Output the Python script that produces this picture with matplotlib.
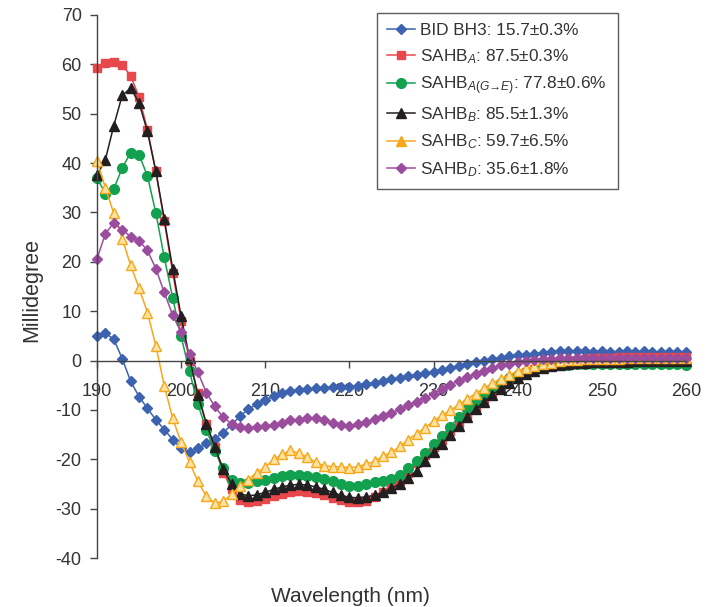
import numpy as np
from matplotlib import pyplot as plt

plt.rcParams['font.family'] = ['Liberation Sans', 'DejaVu Sans']
plt.rcParams['mathtext.fontset'] = 'custom'
plt.rcParams['mathtext.rm'] = 'Liberation Sans'
plt.rcParams['mathtext.it'] = 'Liberation Sans:italic'
plt.rcParams['mathtext.fallback'] = 'stixsans'
plt.rcParams['axes.unicode_minus'] = False

# wavelength, 1 nm steps
wavelength = np.arange(190, 261)

bid_bh3 = [4.9, 5.6, 4.3, 0.4, -4.2, -7.3, -9.7, -12, -14, -16,
           -17.8, -18.6, -17.8, -16.8, -15.8, -14.6, -13, -11.3, -9.8, -8.9,
           -8, -7.2, -6.5, -6.2, -6, -5.8, -5.6, -5.5, -5.4, -5.3,
           -5.3, -5.1, -4.8, -4.5, -4.1, -3.8, -3.5, -3.2, -2.9, -2.6,
           -2.3, -2, -1.6, -1.1, -0.7, -0.3, 0, 0.3, 0.6, 0.9,
           1.1, 1.2, 1.4, 1.6, 1.8, 2.0, 1.9, 1.9, 1.9, 1.8,
           1.9, 1.8, 1.8, 1.9, 1.8, 1.9, 1.8, 1.7, 1.8, 1.7, 1.7]

sahb_a = [59.3, 60.3, 60.4, 59.9, 57.7, 53.4, 46.8, 38.3, 28.2, 17.8,
          8, 0, -6.5, -12.8, -17.6, -22.7, -26, -28.3, -28.6, -28.4,
          -28, -27.5, -27, -26.7, -26.5, -26.6, -26.9, -27.3, -27.8, -28.3,
          -28.6, -28.7, -28.4, -27.7, -26.7, -25.6, -24.3, -22.7, -20.8, -19.2,
          -17.6, -16, -14.3, -12.6, -11, -9.4, -7.9, -6.5, -5.2, -4.1,
          -3.2, -2.4, -1.7, -1.1, -0.7, -0.3, 0, 0.2, 0.4, 0.5,
          0.6, 0.6, 0.7, 0.7, 0.7, 0.8, 0.8, 0.8, 0.8, 0.8, 0.8]

sahb_a_ge = [37, 33.8, 34.8, 39, 42.1, 41.7, 37.4, 29.9, 20.9, 12.7,
             4.9, -2.2, -8.9, -14, -18.4, -21.7, -24.1, -24.9, -24.9, -24.5,
             -24.1, -23.7, -23.3, -23.1, -23.1, -23.3, -23.6, -24, -24.5, -25,
             -25.4, -25.5, -25.1, -24.7, -24.4, -24, -23.1, -21.8, -20.4, -18.8,
             -17, -15.3, -13.4, -11.5, -9.9, -8.5, -6.9, -5.7, -4.5, -3.6,
             -3, -2.4, -2, -1.4, -1.1, -0.9, -0.8, -0.7, -0.7, -0.6,
             -0.6, -0.6, -0.6, -0.6, -0.6, -0.6, -0.7, -0.6, -0.7, -0.7, -0.8]

sahb_b = [37.5, 40.7, 47.6, 53.7, 55.2, 52.2, 46.4, 38.3, 28.7, 18.6,
          9, 0.5, -7, -12.8, -17.5, -22, -25, -27, -27.4, -27.2,
          -26.7, -26.1, -25.6, -25.2, -25.1, -25.2, -25.6, -26.1, -26.7, -27.3,
          -27.7, -27.8, -27.6, -27.3, -26.7, -25.9, -25, -23.8, -22.3, -20.3,
          -18.5, -16.9, -15, -13.3, -11.4, -9.9, -8.3, -6.9, -5.7, -4.5,
          -3.6, -2.8, -2.1, -1.5, -1.1, -0.8, -0.6, -0.5, -0.4, -0.3,
          -0.3, -0.2, -0.2, -0.2, -0.1, -0.1, -0.1, 0, 0, 0, 0]

sahb_c = [40.5, 35, 29.8, 24.7, 19.3, 14.7, 9.7, 3, -5.1, -11.7,
          -16.6, -20.6, -24.5, -27.5, -28.9, -28.5, -27.1, -25.5, -24.1, -22.7,
          -21.6, -20, -19, -18.2, -18.8, -19.6, -20.6, -21.3, -21.5, -21.5,
          -21.7, -21.5, -21, -20.4, -19.4, -18.6, -17.4, -16, -14.8, -13.6,
          -12.3, -11.1, -10.1, -8.9, -7.8, -6.7, -5.6, -4.6, -3.7, -2.9,
          -2.2, -1.6, -1.1, -0.7, -0.4, -0.1, 0.1, 0.2, 0.3, 0.3,
          0.4, 0.4, 0.4, 0.5, 0.5, 0.5, 0.5, 0.5, 0.5, 0.5, 0.5]

sahb_d = [20.6, 25.7, 27.9, 26.5, 25.1, 24.3, 22.3, 18.6, 13.8, 9.2,
          5.7, 1.3, -2.4, -6.5, -9.3, -11.5, -12.8, -13.4, -13.6, -13.4,
          -13.3, -13, -12.6, -12.1, -12, -11.7, -11.7, -12.1, -12.6, -13,
          -13.3, -12.9, -12.4, -11.9, -11.3, -10.6, -9.9, -9.1, -8.3, -7.5,
          -6.7, -5.8, -4.9, -4.1, -3.4, -2.7, -2.1, -1.5, -1, -0.6,
          -0.3, 0, 0.2, 0.3, 0.4, 0.5, 0.5, 0.5, 0.5, 0.6,
          0.6, 0.6, 0.6, 0.6, 0.6, 0.6, 0.6, 0.6, 0.6, 0.6, 0.6]

labels = ['BID BH3: 15.7±0.3%',
          'SAHB$_{A}$: 87.5±0.3%',
          'SAHB$_{A(G→E)}$: 77.8±0.6%',
          'SAHB$_{B}$: 85.5±1.3%',
          'SAHB$_{C}$: 59.7±6.5%',
          'SAHB$_{D}$: 35.6±1.8%']

fig = plt.figure(figsize=(7.13, 6.07), dpi=100)
ax = fig.add_axes([0.136, 0.0807, 0.826, 0.8946])

kw = dict(lw=1.1, clip_on=False)
ax.plot(wavelength, bid_bh3, color='#3C62B0', marker='D', ms=5, label=labels[0], **kw)
ax.plot(wavelength, sahb_a, color='#E8474B', marker='s', ms=6, label=labels[1], **kw)
ax.plot(wavelength, sahb_a_ge, color='#12A14E', marker='o', ms=7, label=labels[2], **kw)
ax.plot(wavelength, sahb_b, color='#231F20', marker='^', ms=7, label=labels[3], **kw)
ax.plot(wavelength, sahb_c, color='#F6A71C', marker='^', ms=7, mfc='#FDE2A0',
        mec='#F6A71C', label=labels[4], **kw)
ax.plot(wavelength, sahb_d, color='#9A4D9D', marker='D', ms=5, label=labels[5], **kw)

ax.set_xlim(190, 260)
ax.set_ylim(-40, 70)
ax.set_xticks(range(190, 261, 10))
ax.set_yticks(range(-40, 71, 10))

ax.spines['top'].set_visible(False)
ax.spines['right'].set_visible(False)
ax.spines['bottom'].set_position(('data', 0))
for s in ['left', 'bottom']:
    ax.spines[s].set_color('#444444')
    ax.spines[s].set_linewidth(1.0)
ax.tick_params(axis='both', direction='out', length=5, width=1.0, color='#444444',
               labelsize=13, labelcolor='#333333')
ax.tick_params(axis='x', pad=11)
ax.tick_params(axis='y', pad=6)

fig.text(350 / 713, 1 - 596 / 607, 'Wavelength (nm)', ha='center', va='center',
         fontsize=15, color='#333333')
fig.text(32 / 713, 1 - 290 / 607, 'Millidegree', ha='center', va='center',
         rotation=90, fontsize=15.5, color='#333333')

leg = ax.legend(loc='upper left', bbox_to_anchor=(0.475, 1.004, 0.409, 0), mode='expand',
                borderaxespad=0, fontsize=12.4, frameon=True, fancybox=False,
                handlelength=1.6, handletextpad=0.3, labelspacing=0.5, borderpad=0.6)
leg.get_frame().set_edgecolor('#333333')
leg.get_frame().set_linewidth(1.0)
for t in leg.get_texts():
    t.set_color('#333333')
leg.legend_handles[4].set_markerfacecolor('#F6A71C')

plt.savefig('out.png', dpi=100)
